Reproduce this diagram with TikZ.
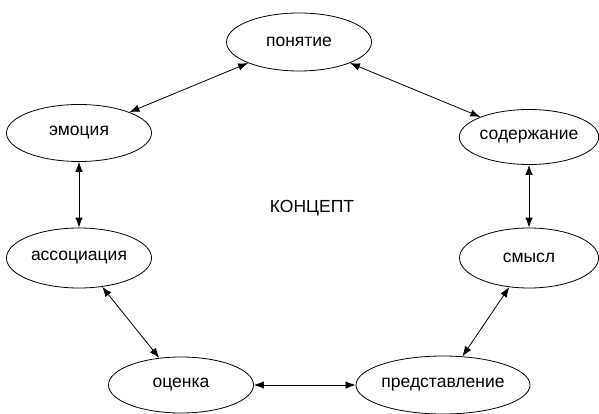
\documentclass[tikz,border=0pt]{standalone}
\usepackage{fontspec}
\setmainfont{Liberation Sans}
\usetikzlibrary{shapes.geometric,arrows.meta}
\begin{document}
\begin{tikzpicture}[x=1pt,y=-1pt,
  conc/.style={draw,ellipse,line width=0.8pt,inner sep=0pt,font=\fontsize{17.5}{20}\selectfont},
  link/.style={line width=0.8pt,{Latex[length=10pt,width=7.5pt]}-{Latex[length=10pt,width=7.5pt]}}]
\useasboundingbox (0,0) rectangle (599,414);
\node[conc,minimum width=145pt,minimum height=58pt] (pon) at (299,42) {понятие};
\node[conc,minimum width=145pt,minimum height=57pt] (emo) at (79,133) {эмоция};
\node[conc,minimum width=137pt,minimum height=55pt] (sod) at (529,137) {содержание};
\node[conc,minimum width=145pt,minimum height=60pt] (ass) at (79,258) {ассоциация};
\node[conc,minimum width=139pt,minimum height=60pt] (sms) at (529,258) {смысл};
\node[conc,minimum width=145pt,minimum height=56pt] (ots) at (181,385) {оценка};
\node[conc,minimum width=143pt,minimum height=58pt] (pre) at (443,385) {представление};
\node[font=\fontsize{17.5}{20}\selectfont] (kon) at (312,208) {КОНЦЕПТ};
\draw[link] (pon) -- (emo);
\draw[link] (pon) -- (sod);
\draw[link] (emo) -- (ass);
\draw[link] (sod) -- (sms);
\draw[link] (ass) -- (ots);
\draw[link] (sms) -- (pre);
\draw[link] (ots) -- (pre);
\end{tikzpicture}
\end{document}
